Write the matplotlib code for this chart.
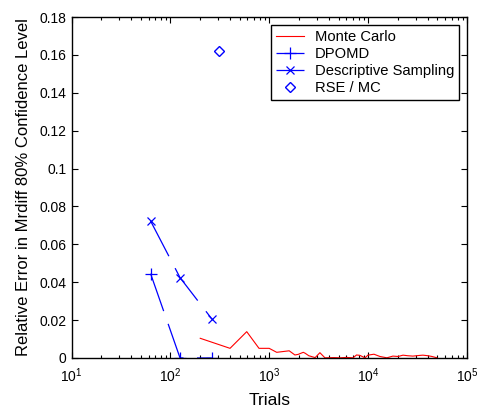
import matplotlib
matplotlib.use("Agg")
import matplotlib.pyplot as plt

plt.rcParams['font.family'] = ['Liberation Sans', 'DejaVu Sans']
plt.rcParams['font.size'] = 10
plt.rcParams['mathtext.fontset'] = 'custom'
plt.rcParams['mathtext.rm'] = 'Liberation Sans'

# Monte Carlo
mc_trials = [200, 400, 590, 785, 995, 1185, 1585, 1810, 1950, 2200, 2300, 2500,
             2900, 3240, 3640, 4500, 5200, 6000, 7000, 7600, 8200, 9250, 9900,
             11400, 13100, 15400, 17700, 20000, 22400, 25000, 28200, 32000,
             35600, 40000, 44000, 49400]
mc_err = [0.0104, 0.0051, 0.0139, 0.0051, 0.0051, 0.0030, 0.0038, 0.0016, 0.0019,
          0.0030, 0.0025, 0.0012, 0.0002, 0.0028, 0.0001, 0.0002, 0.0001, 0.0003,
          0.0001, 0.0016, 0.0014, 0.0001, 0.0015, 0.0020, 0.0008, 0.0001, 0.0010,
          0.0008, 0.0015, 0.0012, 0.0010, 0.0013, 0.0015, 0.0012, 0.0008, 0.0001]

# DPOMD
dp_trials = [63, 125, 262]
dp_err = [0.0445, 0.0, 0.0]

# Descriptive Sampling
ds_trials = [63, 125, 262]
ds_err = [0.0723, 0.0424, 0.0206]

# RSE / MC
rse_trials = [306]
rse_err = [0.1622]

fig = plt.figure(figsize=(4.8, 4.07), dpi=100)
ax = fig.add_axes([0.149, 0.1204, 0.8245, 0.8378])

dash = (0, (31.7, 10.8))
ax.plot(mc_trials, mc_err, color='red', lw=0.8, label='Monte Carlo')
ax.plot(dp_trials, dp_err, color='blue', lw=0.9, linestyle=dash, marker='+',
        ms=8, mew=0.9, label='DPOMD')
ax.plot(ds_trials, ds_err, color='blue', lw=0.9, linestyle=dash, marker='x',
        ms=6, mew=0.9, label='Descriptive Sampling')
ax.plot(rse_trials, rse_err, linestyle='none', marker='D', ms=5.3, mfc='none',
        mec='blue', mew=1.0, label='RSE / MC')

ax.set_xscale('log')
ax.set_xlim(10, 1e5)
ax.set_ylim(0, 0.18)
ax.set_yticks([0, 0.02, 0.04, 0.06, 0.08, 0.1, 0.12, 0.14, 0.16, 0.18])
ax.set_yticklabels(['0', '0.02', '0.04', '0.06', '0.08', '0.1', '0.12', '0.14', '0.16', '0.18'])
ax.tick_params(which='both', direction='in', top=True, right=True, labelsize=10)
ax.tick_params(which='major', length=4, width=0.8)
ax.tick_params(which='minor', length=2.5, width=0.8)
ax.tick_params(axis='x', which='major', pad=6)
for s in ax.spines.values():
    s.set_linewidth(1.0)

ax.set_xlabel('Trials', fontsize=12.5, labelpad=5.5)
ax.set_ylabel('Relative Error in Mrdiff 80% Confidence Level', fontsize=12, labelpad=6)
ax.yaxis.set_label_coords(-0.103, 0.5)

leg = ax.legend(loc='upper right', fancybox=False, framealpha=1, edgecolor='black',
                borderaxespad=0.55, handlelength=1.9, handletextpad=0.7,
                labelspacing=0.2, borderpad=0.35, fontsize=10.6)
leg.get_frame().set_linewidth(1.0)

fig.savefig('out.png', dpi=100)
